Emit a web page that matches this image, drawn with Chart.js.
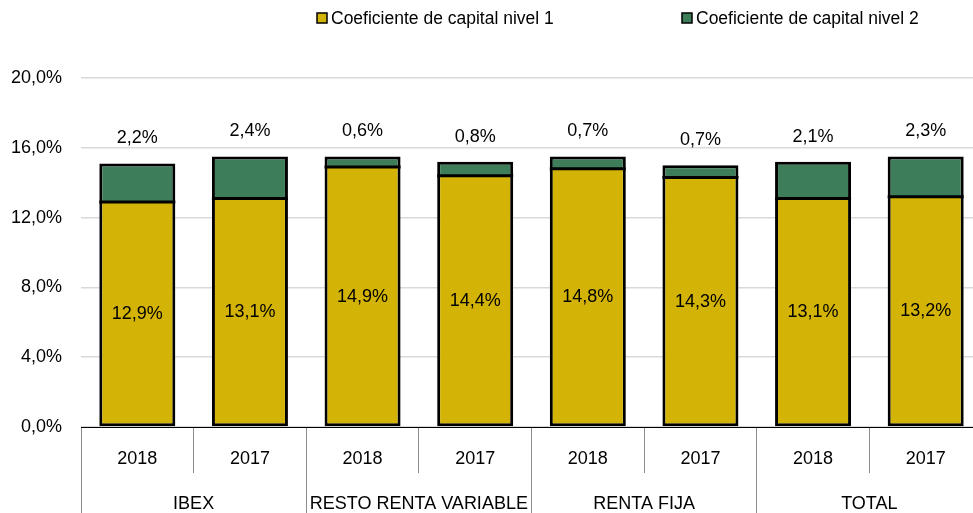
<!DOCTYPE html>
<html>
<head>
<meta charset="utf-8">
<script src="https://cdn.jsdelivr.net/npm/chart.js@4.4.1/dist/chart.umd.min.js"></script>
<style>
  html, body { margin: 0; padding: 0; overflow: hidden; background: #fff; }
  #wrap { width: 990px; height: 513px; position: relative; }
</style>
</head>
<body>
<div id="wrap"><canvas id="capitalChart"></canvas></div>
<script>
// datos
const years = ['2018', '2017', '2018', '2017', '2018', '2017', '2018', '2017'];
const groups = ['IBEX', 'RESTO RENTA VARIABLE', 'RENTA FIJA', 'TOTAL'];
const nivel1 = [12.9, 13.1, 14.9, 14.4, 14.8, 14.3, 13.1, 13.2];
const nivel2 = [2.2, 2.4, 0.6, 0.8, 0.7, 0.7, 2.1, 2.3];
const seriesNames = ['Coeficiente de capital nivel 1', 'Coeficiente de capital nivel 2'];
const yMin = 0, yMax = 20, yStep = 4;

const YELLOW = '#D3B306';
const GREEN = '#3D7D5A';
const FONT = 'Liberation Sans, Arial, sans-serif';

function fmt(v) {
  return v.toFixed(1).replace('.', ',') + '%';
}

// línea de separación entre nivel 1 y nivel 2 + etiquetas de valor
const valueLabels = {
  id: 'valueLabels',
  afterDatasetsDraw(chart) {
    const ctx = chart.ctx;
    ctx.save();
    ctx.strokeStyle = '#000';
    ctx.lineWidth = 3;
    chart.getDatasetMeta(1).data.forEach(bar => {
      ctx.beginPath();
      ctx.moveTo(bar.x - bar.width / 2, bar.base);
      ctx.lineTo(bar.x + bar.width / 2, bar.base);
      ctx.stroke();
    });
    ctx.font = '18px ' + FONT;
    ctx.fillStyle = '#000';
    ctx.textAlign = 'center';
    ctx.textBaseline = 'middle';
    chart.getDatasetMeta(0).data.forEach((bar, i) => {
      ctx.fillText(fmt(nivel1[i]), bar.x, (bar.y + bar.base) / 2);
    });
    chart.getDatasetMeta(1).data.forEach((bar, i) => {
      ctx.fillText(fmt(nivel2[i]), bar.x, bar.y - 25);
    });
    ctx.restore();
  }
};

// leyenda dibujada a mano para fijar la posición
const legendPlugin = {
  id: 'manualLegend',
  afterDraw(chart) {
    const ctx = chart.ctx;
    const items = [
      { x: 317, color: YELLOW },
      { x: 682, color: GREEN }
    ];
    ctx.save();
    ctx.font = '17.5px ' + FONT;
    ctx.textBaseline = 'middle';
    ctx.textAlign = 'left';
    items.forEach((it, i) => {
      ctx.fillStyle = it.color;
      ctx.fillRect(it.x, 13, 10, 10);
      ctx.strokeStyle = '#000';
      ctx.lineWidth = 1.5;
      ctx.strokeRect(it.x, 13, 10, 10);
      ctx.fillStyle = '#000';
      ctx.fillText(seriesNames[i], it.x + 14, 19);
    });
    ctx.restore();
  }
};

new Chart(document.getElementById('capitalChart'), {
  type: 'bar',
  data: {
    labels: years,
    datasets: [
      {
        label: seriesNames[0],
        data: nivel1,
        backgroundColor: YELLOW,
        borderColor: '#000',
        borderWidth: { top: 0, left: 3, right: 3, bottom: 3 },
        borderSkipped: false,
        inflateAmount: 0,
        categoryPercentage: 1,
        barPercentage: 0.675
      },
      {
        label: seriesNames[1],
        data: nivel2,
        backgroundColor: GREEN,
        borderColor: '#000',
        borderWidth: { top: 3, left: 3, right: 3, bottom: 0 },
        borderSkipped: false,
        inflateAmount: 0,
        categoryPercentage: 1,
        barPercentage: 0.675
      }
    ]
  },
  options: {
    responsive: true,
    maintainAspectRatio: false,
    animation: false,
    layout: { padding: { top: 78, right: 8, left: 0, bottom: 0 } },
    plugins: {
      legend: { display: false },
      tooltip: { enabled: false }
    },
    scales: {
      x: {
        stacked: true,
        position: 'bottom',
        weight: 0,
        offset: true,
        grid: { offset: true, drawOnChartArea: false, tickLength: 46, color: '#8c8c8c', lineWidth: 1 },
        border: { color: '#000', width: 1 },
        ticks: { padding: -25, color: '#000', font: { family: FONT, size: 18 }, maxRotation: 0, autoSkip: false },
        afterFit(scale) { scale.height = 46; }
      },
      x2: {
        type: 'category',
        labels: groups,
        position: 'bottom',
        weight: 1,
        offset: true,
        grid: { offset: true, drawOnChartArea: false, tickLength: 40, color: '#8c8c8c', lineWidth: 1 },
        border: { display: false },
        ticks: { padding: -20, color: '#000', font: { family: FONT, size: 18 }, maxRotation: 0, autoSkip: false },
        afterFit(scale) { scale.height = 40; }
      },
      y: {
        stacked: true,
        min: yMin,
        max: yMax,
        ticks: {
          stepSize: yStep,
          padding: 19,
          color: '#000',
          font: { family: FONT, size: 18 },
          callback: v => fmt(v)
        },
        grid: { color: '#d9d9d9', lineWidth: 1.5, drawTicks: false },
        border: { display: false },
        afterFit(scale) { scale.width = 81; }
      }
    }
  },
  plugins: [valueLabels, legendPlugin]
});
</script>
</body>
</html>
